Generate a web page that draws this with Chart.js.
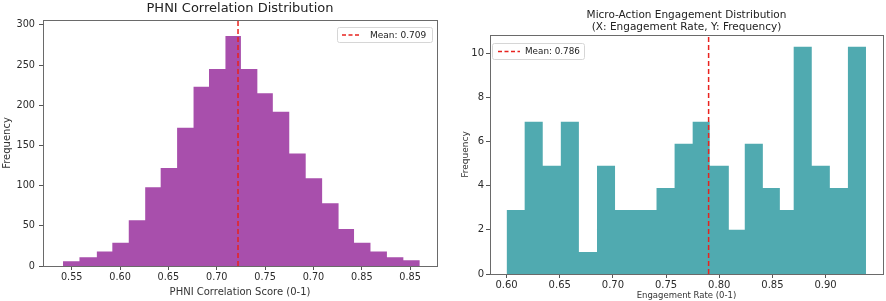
<!DOCTYPE html>
<html>
<head>
<meta charset="utf-8">
<script src="https://cdn.jsdelivr.net/npm/chart.js@4.4.1/dist/chart.umd.min.js"></script>
<style>
  html, body { margin: 0; padding: 0; background: #fff; }
  .wrap { position: absolute; top: 0; width: 443px; height: 301px; }
</style>
</head>
<body>
<div class="wrap" style="left:0"><canvas id="phniChart"></canvas></div>
<div class="wrap" style="left:443px"><canvas id="engagementChart"></canvas></div>
<script>
// PHNI correlation histogram (bin edges + counts)
const phniEdges = [0.541, 0.558, 0.576, 0.592, 0.609, 0.626, 0.642, 0.659, 0.676, 0.692, 0.709, 0.725,
  0.742, 0.758, 0.775, 0.792, 0.809, 0.826, 0.842, 0.859, 0.876, 0.893, 0.910];
const phniCounts = [6, 11, 18, 29, 57, 98, 122, 172, 223, 245, 286, 245, 215, 192, 140, 109, 78, 46, 29, 18, 11, 7];
const phniMean = 0.722;
const phniMeanLabel = "Mean: 0.709";
const phniXTicks = [0.55, 0.60, 0.65, 0.70, 0.75, 0.80, 0.85, 0.90];
const phniXTickLabels = ["0.55", "0.60", "0.65", "0.70", "0.75", "0.70", "0.85", "0.85"];
const phniYTicks = [0, 50, 100, 150, 200, 250, 300];

// Micro-action engagement histogram
const engEdges = [0.600, 0.617, 0.634, 0.651, 0.668, 0.685, 0.702, 0.721, 0.741, 0.758, 0.775,
  0.791, 0.809, 0.824, 0.841, 0.857, 0.870, 0.887, 0.904, 0.921, 0.938];
const engCounts = [2.9, 6.9, 4.9, 6.9, 1.0, 4.9, 2.9, 2.9, 3.9, 5.9, 6.9, 4.9, 2.0, 5.9, 3.9, 2.9, 10.3, 4.9, 3.9, 10.3];
const engMean = 0.790;
const engMeanLabel = "Mean: 0.786";
const engXTicks = [0.60, 0.65, 0.70, 0.75, 0.80, 0.85, 0.90];
const engXTickLabels = ["0.60", "0.65", "0.70", "0.75", "0.80", "0.85", "0.90"];
const engYTicks = [0, 2, 4, 6, 8, 10];

const FONT = '"DejaVu Sans", sans-serif';

// spines round the plot area
const framePlugin = {
  id: "frame",
  afterDatasetsDraw(chart) {
    const { ctx, chartArea: a } = chart;
    ctx.save();
    ctx.strokeStyle = "#6a6a6a";
    ctx.lineWidth = 1;
    ctx.strokeRect(Math.round(a.left) + 0.5, Math.round(a.top) + 0.5,
      Math.round(a.right - a.left), Math.round(a.bottom - a.top));
    ctx.restore();
  },
};

// title centred over the axes, like matplotlib
const axesTitlePlugin = {
  id: "axesTitle",
  afterDraw(chart, args, opts) {
    const { ctx, chartArea: a } = chart;
    ctx.save();
    ctx.font = `${opts.size}px ${FONT}`;
    ctx.fillStyle = "#222";
    ctx.textAlign = "center";
    ctx.textBaseline = "middle";
    opts.lines.forEach((t, i) => ctx.fillText(t, (a.left + a.right) / 2, opts.y + i * opts.lineGap));
    ctx.restore();
  },
};

// small boxed legend for the mean line
const meanLegendPlugin = {
  id: "meanLegend",
  afterDraw(chart, args, opts) {
    const ds = chart.data.datasets[1];
    const { ctx, chartArea: a } = chart;
    ctx.save();
    ctx.font = `${opts.size}px ${FONT}`;
    const w = opts.w;
    const h = opts.h;
    const x = Math.round(opts.side === "right" ? a.right - opts.dx - w : a.left + opts.dx);
    const y = Math.round(a.top + opts.dy);
    ctx.fillStyle = "rgba(255,255,255,0.85)";
    ctx.strokeStyle = "#d6d6d6";
    ctx.lineWidth = 1;
    ctx.beginPath();
    ctx.roundRect(x + 0.5, y + 0.5, w, h, 2);
    ctx.fill();
    ctx.stroke();
    ctx.strokeStyle = ds.borderColor;
    ctx.lineWidth = 1.5;
    ctx.setLineDash([4, 2.5]);
    ctx.beginPath();
    ctx.moveTo(x + opts.lineX, y + h / 2 + 0.5);
    ctx.lineTo(x + opts.lineX + opts.lineW, y + h / 2 + 0.5);
    ctx.stroke();
    ctx.setLineDash([]);
    ctx.fillStyle = "#222";
    ctx.textBaseline = "middle";
    ctx.fillText(ds.label, x + opts.textX, y + h / 2 + 1);
    ctx.restore();
  },
};

function histPoints(edges, counts) {
  const pts = counts.map((c, i) => ({ x: edges[i], y: c }));
  pts.push({ x: edges[edges.length - 1], y: counts[counts.length - 1] });
  return pts;
}

function makeHistChart(id, cfg) {
  const canvas = document.getElementById(id);
  return new Chart(canvas.getContext("2d"), {
    type: "line",
    data: {
      datasets: [
        {
          label: "hist",
          data: histPoints(cfg.edges, cfg.counts),
          stepped: "before",
          fill: "origin",
          backgroundColor: cfg.color,
          borderColor: "rgba(0,0,0,0)",
          borderWidth: 1,
          pointRadius: 0,
          order: 2,
        },
        {
          // mean marker, drawn over the bars
          label: cfg.meanLabel,
          data: [{ x: cfg.mean, y: 0 }, { x: cfg.mean, y: cfg.yMax }],
          borderColor: "#e8231f",
          borderWidth: 1.5,
          borderDash: [5, 3],
          pointRadius: 0,
          fill: false,
          order: 1,
        },
      ],
    },
    options: {
      responsive: true,
      maintainAspectRatio: false,
      animation: false,
      events: [],
      layout: { padding: cfg.padding },
      plugins: {
        legend: { display: false },
        tooltip: { enabled: false },
        axesTitle: cfg.title,
        meanLegend: cfg.legend,
      },
      scales: {
        x: {
          type: "linear",
          min: cfg.xMin,
          max: cfg.xMax,
          afterBuildTicks: (s) => { s.ticks = cfg.xTicks.map((v) => ({ value: v })); },
          afterFit: (s) => { s.height = cfg.xHeight; },
          ticks: {
            autoSkip: false,
            maxRotation: 0,
            padding: cfg.xTickPad,
            color: "#2b2b2b",
            font: { family: FONT, size: cfg.tickSize },
            callback: (v, i) => cfg.xTickLabels[i],
          },
          grid: { drawOnChartArea: false, drawTicks: true, tickLength: 4, tickColor: "#555" },
          border: { display: true, color: "#6a6a6a" },
          title: {
            display: true,
            text: cfg.xTitle,
            color: "#333",
            font: { family: FONT, size: cfg.xTitleSize },
            padding: { top: 0, bottom: cfg.xTitleBottom },
          },
        },
        y: {
          min: 0,
          max: cfg.yMax,
          afterBuildTicks: (s) => { s.ticks = cfg.yTicks.map((v) => ({ value: v })); },
          afterFit: (s) => { s.width = cfg.yWidth; },
          ticks: {
            padding: cfg.yTickPad,
            color: "#2b2b2b",
            font: { family: FONT, size: cfg.tickSize },
          },
          grid: { drawOnChartArea: false, drawTicks: true, tickLength: 4, tickColor: "#555" },
          border: { display: true, color: "#6a6a6a" },
          title: {
            display: true,
            text: "Frequency",
            color: "#333",
            font: { family: FONT, size: cfg.yTitleSize },
            padding: { top: 1, bottom: 0 },
          },
        },
      },
    },
    plugins: [framePlugin, axesTitlePlugin, meanLegendPlugin],
  });
}

makeHistChart("phniChart", {
  edges: phniEdges,
  counts: phniCounts,
  mean: phniMean,
  meanLabel: phniMeanLabel,
  xTicks: phniXTicks,
  xTickLabels: phniXTickLabels,
  yTicks: phniYTicks,
  color: "#a84fac",
  xMin: 0.5203,
  xMax: 0.9278,
  yMax: 306,
  padding: { left: 0, right: 6, top: 20, bottom: 0 },
  xHeight: 35,
  yWidth: 43,
  xTickPad: 2,
  yTickPad: 4,
  tickSize: 9.7,
  xTitle: "PHNI Correlation Score (0-1)",
  xTitleSize: 10,
  xTitleBottom: 3,
  yTitleSize: 10,
  title: { lines: ["PHNI Correlation Distribution"], size: 13, y: 9, lineGap: 0 },
  legend: { side: "right", dx: 5, dy: 7, w: 95, h: 15, size: 9, lineX: 5, lineW: 18, textX: 33 },
});

makeHistChart("engagementChart", {
  edges: engEdges,
  counts: engCounts,
  mean: engMean,
  meanLabel: engMeanLabel,
  xTicks: engXTicks,
  xTickLabels: engXTickLabels,
  yTicks: engYTicks,
  color: "#50aab0",
  xMin: 0.5844,
  xMax: 0.954,
  yMax: 10.83,
  padding: { left: 16, right: 3, top: 35, bottom: 0 },
  xHeight: 27,
  yWidth: 31,
  xTickPad: 1,
  yTickPad: 2,
  tickSize: 10,
  xTitle: "Engagement Rate (0-1)",
  xTitleSize: 8.5,
  xTitleBottom: 0,
  yTitleSize: 9,
  title: { lines: ["Micro-Action Engagement Distribution", "(X: Engagement Rate, Y: Frequency)"], size: 10.5, y: 15, lineGap: 12 },
  legend: { side: "left", dx: 2, dy: 8, w: 92, h: 16, size: 8.8, lineX: 6, lineW: 22, textX: 33 },
});
</script>
</body>
</html>
